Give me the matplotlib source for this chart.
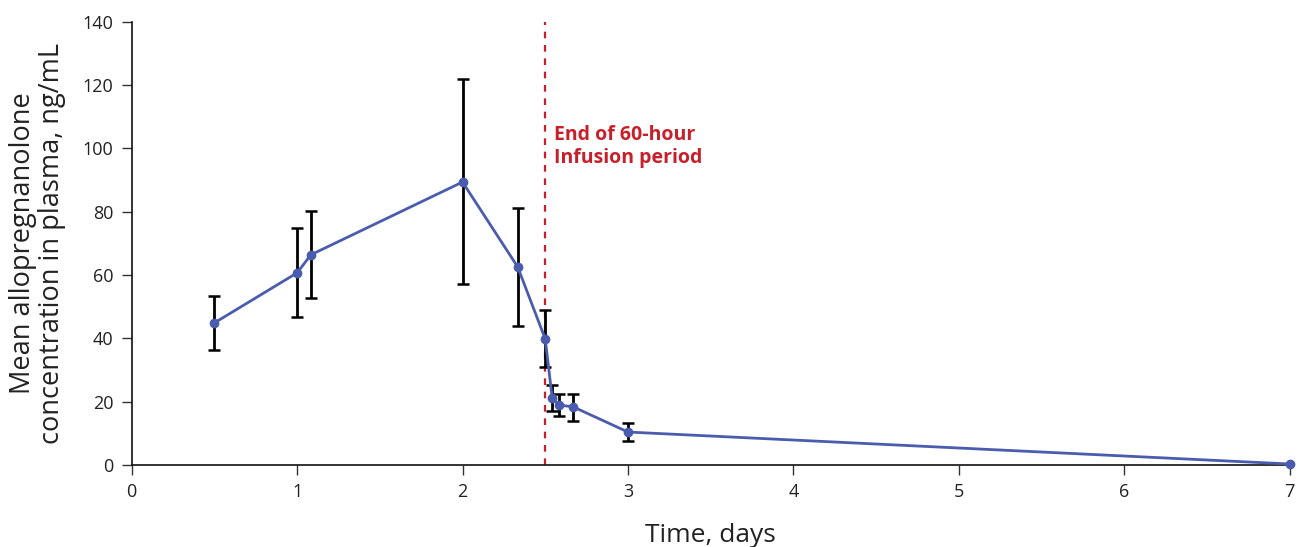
import matplotlib.pyplot as plt

# Time points (days) and mean concentration (ng/mL) with error bars
days = [0.5, 1.0, 1.083, 2.0, 2.333, 2.5, 2.542, 2.583, 2.667, 3.0, 7.0]
conc = [44.9, 60.7, 66.4, 89.4, 62.6, 39.8, 21.1, 18.9, 18.4, 10.4, 0.3]
err_upper = [53.4, 74.9, 80.3, 122.0, 81.2, 49.0, 25.3, 22.4, 22.4, 13.4, None]
err_lower = [36.3, 46.8, 52.8, 57.2, 43.9, 30.8, 16.9, 15.6, 14.0, 7.7, None]

infusion_end = 2.5
x_ticks = [0, 1, 2, 3, 4, 5, 6, 7]
y_ticks = [0, 20, 40, 60, 80, 100, 120, 140]

plt.rcParams['font.family'] = ['Open Sans', 'DejaVu Sans']

fig = plt.figure(figsize=(13.04, 5.47), dpi=100)
ax = fig.add_axes([0.101, 0.150, 0.888, 0.810])

# error bars (only where available)
ex, ey, lo, hi = [], [], [], []
for d, c, u, l in zip(days, conc, err_upper, err_lower):
    if u is not None:
        ex.append(d)
        ey.append(c)
        lo.append(c - l)
        hi.append(u - c)
ax.errorbar(ex, ey, yerr=[lo, hi], fmt='none', ecolor='black', elinewidth=2,
            capsize=4, capthick=1.8, zorder=2)

ax.plot(days, conc, color='#4a5cad', linewidth=2, marker='o', markersize=6,
        zorder=3, clip_on=False)

ax.axvline(infusion_end, color='#c8202a', linestyle=(0, (3, 3)), linewidth=1.6, zorder=1)
ax.text(infusion_end + 0.05, 100.5, 'End of 60-hour\nInfusion period', color='#c8202a',
        fontsize=14, fontweight='bold', ha='left', va='center', linespacing=1.2)

ax.set_xlim(0, 7)
ax.set_ylim(0, 140)
ax.set_xticks(x_ticks)
ax.set_yticks(y_ticks)
ax.tick_params(axis='both', labelsize=13, length=7, width=1, color='#333333',
               labelcolor='#222222', pad=6)
for s in ['top', 'right']:
    ax.spines[s].set_visible(False)
for s in ['left', 'bottom']:
    ax.spines[s].set_linewidth(1.2)
    ax.spines[s].set_color('#111111')

ax.set_xlabel('Time, days', fontsize=19, color='#222222', labelpad=16)
ax.set_ylabel('Mean allopregnanolone\nconcentration in plasma, ng/mL', fontsize=19.5,
              color='#222222', labelpad=12, linespacing=1.05)

fig.savefig('out.png', dpi=100)
